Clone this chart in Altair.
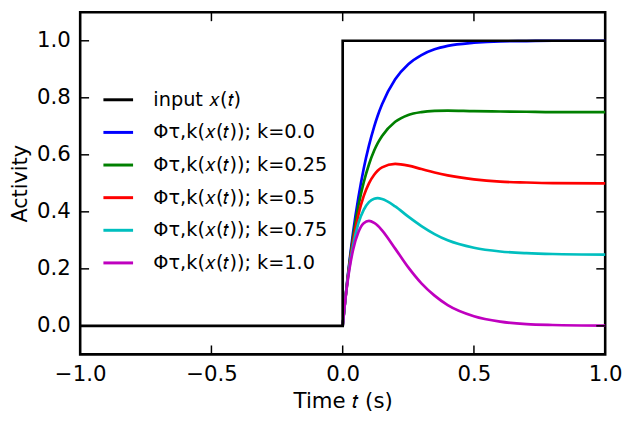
import altair as alt
import pandas as pd

# ---- data ----
t_resp = [0.0, 0.01, 0.02, 0.03, 0.04, 0.06, 0.08, 0.10, 0.12, 0.133, 0.15,
          0.20, 0.25, 0.30, 0.35, 0.40, 0.50, 0.60, 0.70, 0.80, 1.00]
k_0_00 = [0.0, 0.095, 0.181, 0.259, 0.330, 0.451, 0.551, 0.632, 0.699, 0.736, 0.777,
          0.865, 0.918, 0.950, 0.970, 0.982, 0.993, 0.998, 0.999, 1.000, 1.000]
k_0_25 = [0.0, 0.094, 0.177, 0.250, 0.314, 0.421, 0.503, 0.566, 0.615, 0.640, 0.666,
          0.716, 0.740, 0.750, 0.754, 0.755, 0.753, 0.752, 0.751, 0.750, 0.750]
k_0_50 = [0.0, 0.093, 0.173, 0.241, 0.299, 0.390, 0.455, 0.500, 0.530, 0.544, 0.556,
          0.568, 0.562, 0.550, 0.538, 0.528, 0.514, 0.506, 0.503, 0.501, 0.500]
k_0_75 = [0.0, 0.092, 0.168, 0.232, 0.284, 0.360, 0.407, 0.434, 0.446, 0.448, 0.445,
          0.419, 0.383, 0.350, 0.322, 0.300, 0.274, 0.261, 0.255, 0.252, 0.250]
k_1_00 = [0.0, 0.091, 0.164, 0.222, 0.268, 0.329, 0.360, 0.368, 0.361, 0.352, 0.335,
          0.271, 0.205, 0.149, 0.106, 0.073, 0.034, 0.015, 0.006, 0.003, 0.001]
step_t = [-1.0, 0.0, 0.0, 1.0]
step_y = [0.0, 0.0, 1.0, 1.0]

labels = ["input 𝑥(𝑡)",
          "Φτ,k(𝑥(𝑡)); k=0.0",
          "Φτ,k(𝑥(𝑡)); k=0.25",
          "Φτ,k(𝑥(𝑡)); k=0.5",
          "Φτ,k(𝑥(𝑡)); k=0.75",
          "Φτ,k(𝑥(𝑡)); k=1.0"]
colors = ["#000000", "#0000ff", "#008000", "#ff0000", "#00bfbf", "#bf00bf"]
x_ticks = [-1.0, -0.5, 0.0, 0.5, 1.0]
y_ticks = [0.0, 0.2, 0.4, 0.6, 0.8, 1.0]

# ---- tables ----
rows = []
for lab, ys in zip(labels[1:], [k_0_00, k_0_25, k_0_50, k_0_75, k_1_00]):
    for i, (t, y) in enumerate(zip(t_resp, ys)):
        rows.append({"t": t, "y": y, "series": lab, "i": i})
resp_df = pd.DataFrame(rows)
step_df = pd.DataFrame({"t": step_t, "y": step_y, "series": labels[0],
                        "i": list(range(len(step_t)))})
xt_df = pd.DataFrame({"v": x_ticks})
yt_df = pd.DataFrame({"v": y_ticks})

W, H = 531, 346
FONT = "DejaVu Sans"
FS = 21.5

xscale = alt.Scale(domain=[-1.0, 1.0], nice=False, zero=False)
yscale = alt.Scale(domain=[-0.1, 1.1], nice=False, zero=False)

xaxis = alt.Axis(values=x_ticks, format=".1f", ticks=False, domain=False, grid=False,
                 labelFontSize=FS, labelFont=FONT, labelColor="black", labelPadding=9,
                 labelFlush=False, labelOverlap=False,
                 title="Time 𝑡 (s)", titleFontSize=FS, titleFont=FONT,
                 titleFontWeight="normal", titleColor="black", titlePadding=6)
yaxis = alt.Axis(values=y_ticks, format=".1f", ticks=False, domain=False, grid=False,
                 labelFontSize=FS, labelFont=FONT, labelColor="black", labelPadding=10,
                 labelFlush=False, labelOverlap=False,
                 title="Activity", titleFontSize=21, titleFont=FONT,
                 titleFontWeight="normal", titleColor="black", titlePadding=6)

color = alt.Color("series:N",
                  scale=alt.Scale(domain=labels, range=colors),
                  legend=alt.Legend(orient="none", legendX=22, legendY=72, title=None,
                                    symbolType="stroke", symbolSize=900,
                                    symbolStrokeWidth=3, labelFontSize=19.5,
                                    labelFont=FONT, labelColor="black", rowPadding=7,
                                    labelOffset=19, labelLimit=400, padding=0))

resp = alt.Chart(resp_df).mark_line(strokeWidth=2.7, interpolate="monotone").encode(
    x=alt.X("t:Q", scale=xscale, axis=xaxis),
    y=alt.Y("y:Q", scale=yscale, axis=yaxis),
    color=color,
    order="i:Q",
)
step = alt.Chart(step_df).mark_line(strokeWidth=2.7).encode(
    x=alt.X("t:Q", scale=xscale),
    y=alt.Y("y:Q", scale=yscale),
    color=color,
    order="i:Q",
)

tick_style = dict(color="black", strokeWidth=1.5)
xt_bottom = alt.Chart(xt_df).mark_rule(**tick_style).encode(
    x=alt.X("v:Q", scale=xscale), y=alt.value(H), y2=alt.value(H - 9))
xt_top = alt.Chart(xt_df).mark_rule(**tick_style).encode(
    x=alt.X("v:Q", scale=xscale), y=alt.value(0), y2=alt.value(9))
yt_left = alt.Chart(yt_df).mark_rule(**tick_style).encode(
    y=alt.Y("v:Q", scale=yscale), x=alt.value(0), x2=alt.value(9))
yt_right = alt.Chart(yt_df).mark_rule(**tick_style).encode(
    y=alt.Y("v:Q", scale=yscale), x=alt.value(W), x2=alt.value(W - 9))

chart = alt.layer(resp, step, xt_bottom, xt_top, yt_left, yt_right).properties(
    width=W, height=H,
    autosize=alt.AutoSizeParams(type="none"),
    padding={"left": 73, "top": 2, "right": 17, "bottom": 60},
    background="white",
).configure_view(stroke="black", strokeWidth=2.6)

chart.save("out.html", embed_options={"renderer": "svg", "actions": False})
